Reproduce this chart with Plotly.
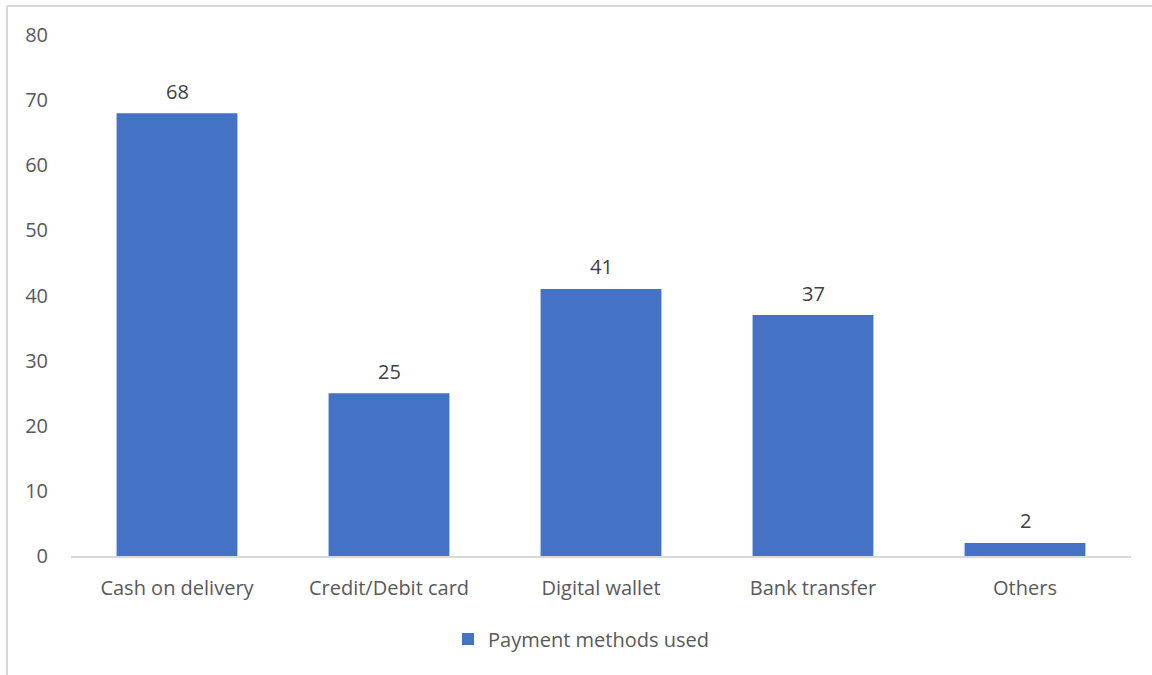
import plotly.graph_objects as go

categories = ["Cash on delivery", "Credit/Debit card", "Digital wallet", "Bank transfer", "Others"]
values = [68, 25, 41, 37, 2]
series_name = "Payment methods used"

L, R, T, B = 71, 21, 35, 119
W, H = 1152, 675
pw, ph = W - L - R, H - T - B
FS = 20

fig = go.Figure()
fig.add_trace(go.Bar(
    x=categories, y=values, name=series_name,
    marker=dict(color="#4472c4", line=dict(width=0)),
    width=0.57,
))
for c, v in zip(categories, values):
    fig.add_annotation(x=c, y=v, text=str(v), showarrow=False, yshift=22,
                       yanchor="middle",
                       font=dict(family="Open Sans", size=FS, color="#404040"))

fig.update_layout(
    width=W, height=H,
    margin=dict(l=L, r=R, t=T, b=B),
    paper_bgcolor="white", plot_bgcolor="white",
    font=dict(family="Open Sans", size=FS, color="#595959"),
    showlegend=True,
    legend=dict(orientation="h", x=(581 - L) / pw, xanchor="center",
                y=(556 - 639) / ph, yanchor="middle",
                font=dict(size=FS, color="#595959")),
)
fig.update_xaxes(showline=True, linecolor="#d9d9d9", linewidth=2, ticks="",
                 showgrid=False, ticklabelstandoff=13,
                 tickfont=dict(size=FS, color="#595959"))
fig.update_yaxes(range=[0, 80], dtick=10, showgrid=False, zeroline=False,
                 showline=False, ticks="", ticklabelstandoff=22,
                 tickfont=dict(size=FS, color="#595959"))

# chart border (left and top edges visible)
fig.add_shape(type="line", xref="paper", yref="paper",
              x0=(7 - L) / pw, x1=(7 - L) / pw, y0=(556 - 680) / ph, y1=1 + (T - 6) / ph,
              line=dict(color="#d9d9d9", width=2))
fig.add_shape(type="line", xref="paper", yref="paper",
              x0=(7 - L) / pw, x1=(1160 - L) / pw, y0=1 + (T - 6) / ph, y1=1 + (T - 6) / ph,
              line=dict(color="#d9d9d9", width=2))

fig.write_html("out.html")
